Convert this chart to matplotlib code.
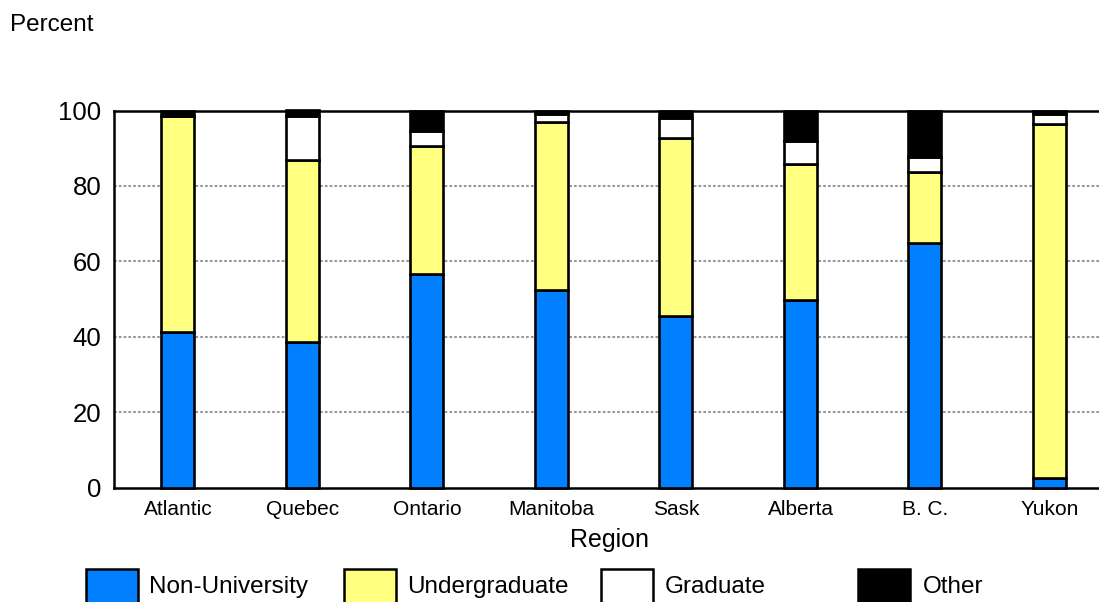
import matplotlib
matplotlib.use("Agg")
import matplotlib.pyplot as plt
from matplotlib.patches import Rectangle
import numpy as np

plt.rcParams['font.family'] = ['Liberation Sans', 'DejaVu Sans']

regions = ["Atlantic", "Quebec", "Ontario", "Manitoba", "Sask", "Alberta", "B. C.", "Yukon"]
series_names = ["Non-University", "Undergraduate", "Graduate", "Other"]
non_university = [41.4, 38.7, 56.7, 52.4, 45.6, 49.8, 64.8, 2.6]
undergraduate = [57.1, 48.2, 33.9, 44.5, 47.2, 36.0, 19.0, 93.8]
graduate = [0.0, 11.7, 4.0, 2.2, 5.1, 6.2, 4.0, 2.6]
other = [1.5, 1.4, 5.4, 0.9, 2.1, 8.0, 12.2, 1.0]
y_ticks = [0, 20, 40, 60, 80, 100]

colors = ["#0080ff", "#ffff80", "#ffffff", "#000000"]

W, H = 1099, 602
fig = plt.figure(figsize=(W / 100, H / 100), dpi=100)

# plot area in pixel terms
left_px, right_px, top_px, bottom_px = 114, 1099, 110.5, 487.7
ax = fig.add_axes([left_px / W, 1 - bottom_px / H,
                   (right_px - left_px) / W, (bottom_px - top_px) / H])

x = np.arange(len(regions))
series = [non_university, undergraduate, graduate, other]
bottom = np.zeros(len(regions))
for vals, col in zip(series, colors):
    vals = np.array(vals)
    ax.bar(x, vals, width=0.265, bottom=bottom, color=col,
           edgecolor="black", linewidth=1.9, zorder=3, clip_on=False)
    bottom += vals

ax.set_xlim(-0.514, 7.398)
ax.set_ylim(0, 100)
ax.set_yticks(y_ticks)
ax.set_yticklabels([str(v) for v in y_ticks], fontsize=18.5)
ax.set_xticks(x)
ax.set_xticklabels(regions, fontsize=15)
ax.tick_params(axis="both", length=0, colors="black")
ax.tick_params(axis="y", pad=9)
ax.tick_params(axis="x", pad=9)

for yv in y_ticks[1:-1]:
    ax.axhline(yv, color="#999999", linewidth=1.5, linestyle=(0, (1.3, 1.0)), zorder=1)

for side in ["left", "bottom", "top"]:
    ax.spines[side].set_linewidth(1.8)
    ax.spines[side].set_color("black")
ax.spines["right"].set_visible(False)

fig.text(609 / W, 1 - 540 / H, "Region", fontsize=18, ha="center", va="center")
fig.text(10 / W, 1 - 25 / H, "Percent", fontsize=17.5, ha="left", va="center")

# legend row along the bottom edge
patch_x = [86, 344, 601, 858]
text_x = [149, 407, 665, 923]
for name, col, px, tx in zip(series_names, colors, patch_x, text_x):
    fig.patches.append(Rectangle((px / W, 1 - 604 / H), 52 / W, 35 / H,
                                 transform=fig.transFigure, facecolor=col,
                                 edgecolor="black", linewidth=1.8))
    fig.text(tx / W, 1 - 587 / H, name, fontsize=17.5, ha="left", va="center")

fig.savefig("out.png", dpi=100)
